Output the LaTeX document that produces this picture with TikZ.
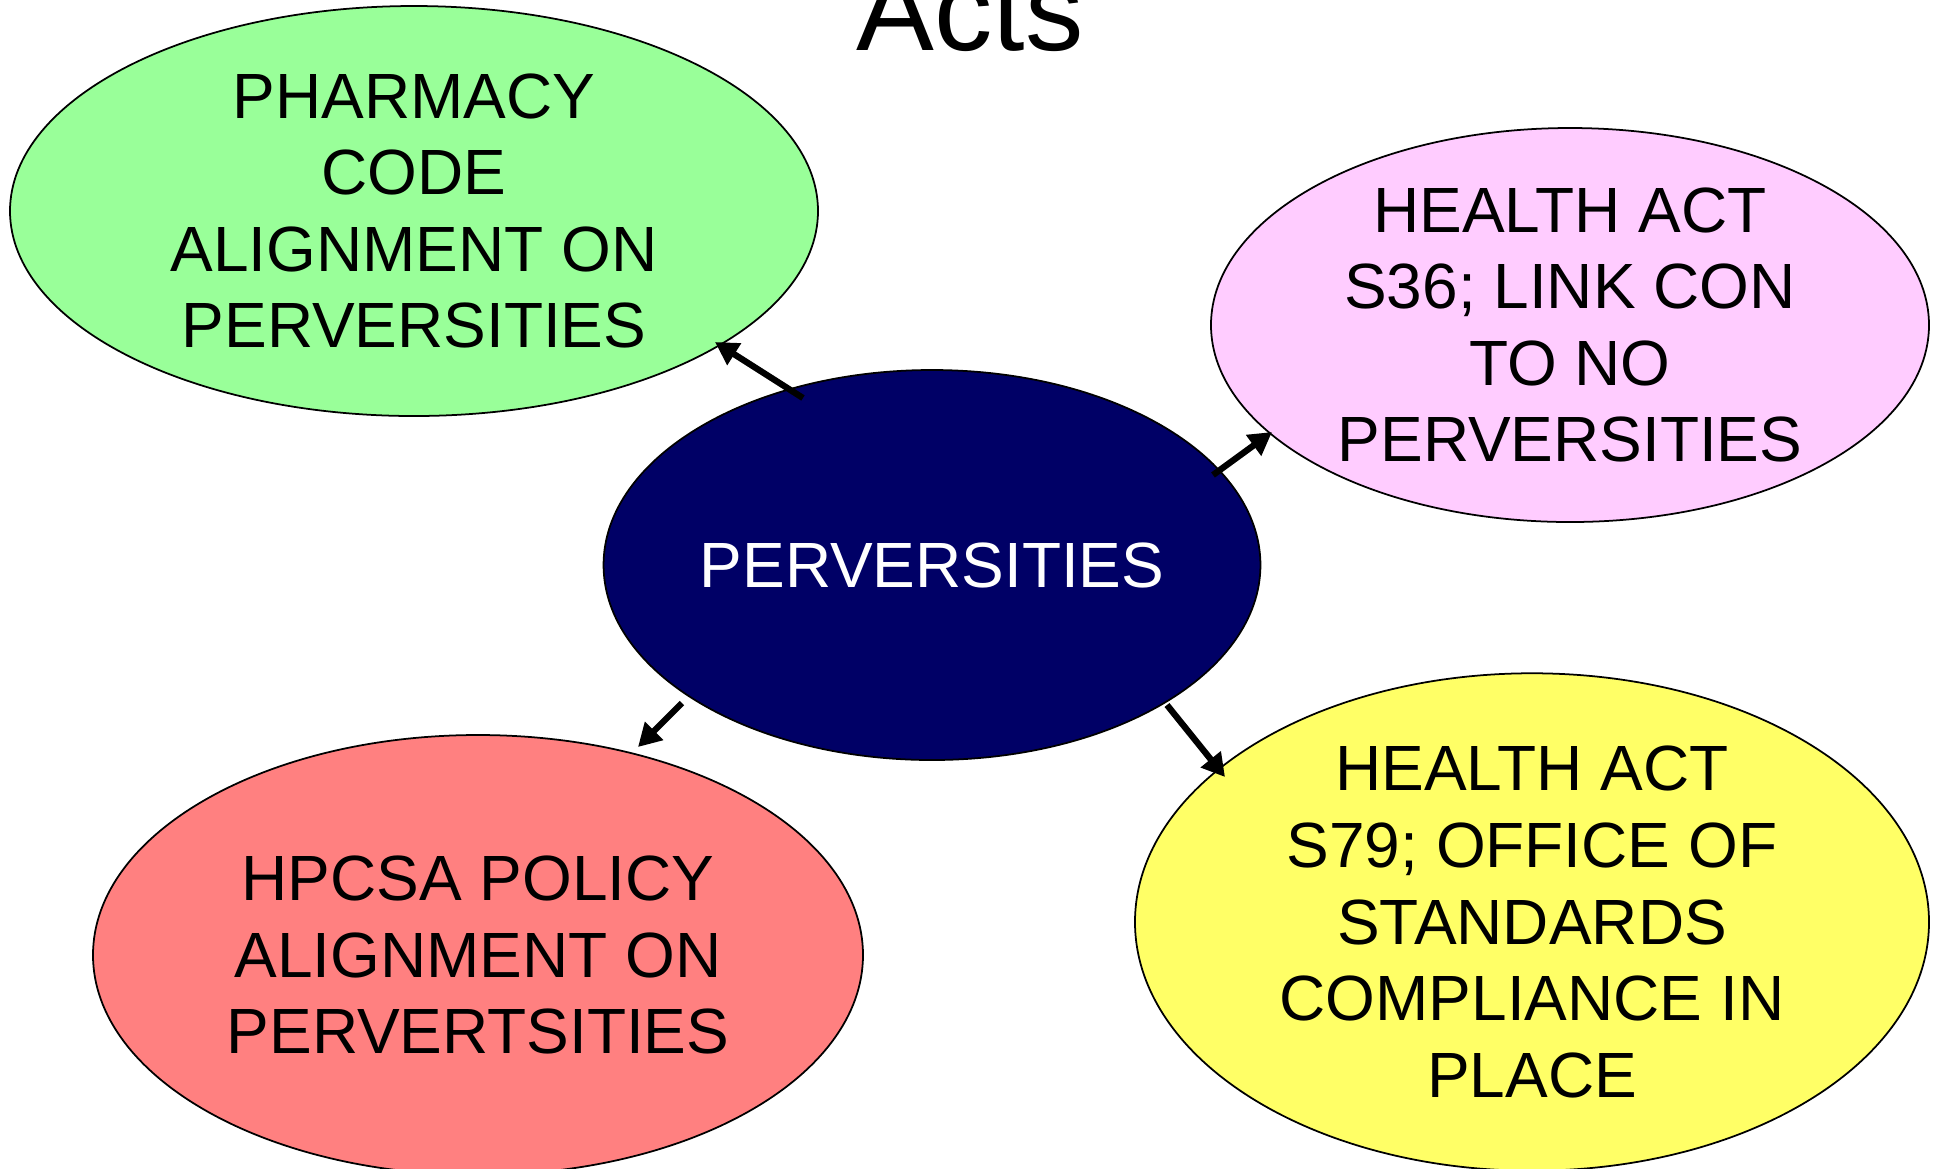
\documentclass[tikz,border=0pt]{standalone}
\usepackage{fontspec}
\setmainfont{Liberation Sans}
\usetikzlibrary{shapes.geometric,arrows.meta}

\definecolor{leafgreen}{HTML}{99FF99}
\definecolor{lightpink}{HTML}{FFCCFF}
\definecolor{deepnavy}{HTML}{000066}
\definecolor{salmonred}{HTML}{FF8080}
\definecolor{lemon}{HTML}{FFFF66}

\tikzset{
	bubble/.style={ellipse,draw=black,line width=0.5pt,inner sep=0pt,align=center,
		font=\fontsize{18.2}{21.8}\selectfont},
	arr/.style={line width=1.8pt,-{Triangle[length=6.5pt,width=7pt]}}
}

\begin{document}
\begin{tikzpicture}
		\useasboundingbox (0,0) rectangle (19.39,-11.68); % page frame
		\node[anchor=base,font=\fontsize{33.2}{36}\selectfont] (title) at (9.70,-0.50) {Acts};
		% the five ellipses
		\node[bubble,fill=leafgreen,minimum width=8.08cm,minimum height=4.10cm] (pharm) at (4.14,-2.11)
		{PHARMACY\\CODE\\ALIGNMENT ON\\PERVERSITIES};
		\node[bubble,fill=lightpink,minimum width=7.18cm,minimum height=3.94cm] (sthirtysix) at (15.70,-3.25)
		{HEALTH ACT\\S36; LINK CON\\TO NO\\PERVERSITIES};
		\node[bubble,fill=deepnavy,text=white,minimum width=6.52cm,minimum height=3.90cm] (perv) at (9.32,-5.65)
		{PERVERSITIES};
		\node[bubble,fill=salmonred,minimum width=7.70cm,minimum height=4.40cm] (hpcsa) at (4.78,-9.55)
		{HPCSA POLICY\\ALIGNMENT ON\\PERVERTSITIES};
		\node[bubble,fill=lemon,minimum width=7.94cm,minimum height=4.40cm] (sseventynine) at (15.32,-9.22)
		{HEALTH ACT\\S79; OFFICE OF\\STANDARDS\\COMPLIANCE IN\\PLACE};
		% arrow ends
		\coordinate (t1) at (8.03,-3.98);  \coordinate (h1) at (7.15,-3.42);
		\coordinate (t2) at (12.13,-4.75); \coordinate (h2) at (12.72,-4.32);
		\coordinate (t3) at (6.82,-7.03);  \coordinate (h3) at (6.38,-7.47);
		\coordinate (t4) at (11.67,-7.05); \coordinate (h4) at (12.25,-7.77);
		\foreach \a/\b in {t1/h1,t2/h2,t3/h3,t4/h4} % edit here for the arrows
		\draw[arr] (\a) -- (\b);
	\end{tikzpicture}
\end{document}
